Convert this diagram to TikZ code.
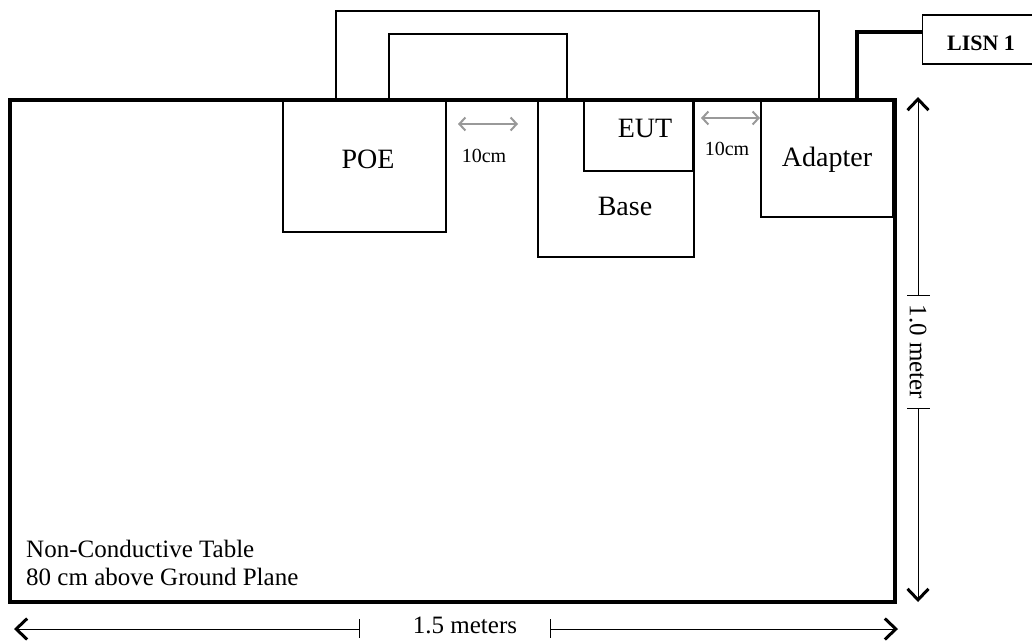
\documentclass[tikz,border=0pt]{standalone}
\usepackage{fontspec}
\setmainfont{Liberation Serif}
\usetikzlibrary{arrows.meta}
\begin{document}
\begin{tikzpicture}[x=1pt,y=-1pt,
  box/.style={draw=black,line width=1.4pt},
  cable/.style={draw=black,line width=1.4pt},
  gap/.style={draw=black!40,line width=1.6pt,{Straight Barb[length=6pt,width=13pt,line width=2pt]}-{Straight Barb[length=6pt,width=13pt,line width=2pt]}},
  dim/.style={draw=black,line width=1pt},
  tip/.style={-{Straight Barb[length=11pt,width=21pt,line width=3pt]}},
  lbl/.style={font=\fontsize{28}{30}\selectfont,inner sep=0pt,anchor=base},
  small/.style={font=\fontsize{20}{22}\selectfont,inner sep=0pt,anchor=base},
  dimtxt/.style={font=\fontsize{25}{28}\selectfont,inner sep=0pt}]
\useasboundingbox (0,0) rectangle (1032,640);
% table
\draw[line width=3.8pt] (10,100) rectangle (895,602);
% boxes
\draw[box] (283,101) rectangle (446,232);
\draw[box] (538,101) rectangle (694,257);
\draw[box] (584,101) rectangle (693,171);
\draw[box] (761,101) rectangle (893,217);
\node[lbl] (poe) at (368,168) {POE};
\node[lbl] (base) at (625,215) {Base};
\node[lbl] (eut) at (645,137) {EUT};
\node[lbl] (adapter) at (827,166) {Adapter};
% cables
\draw[cable] (336,100) -- (336,11) -- (819,11) -- (819,100);
\draw[cable] (389,100) -- (389,34) -- (567,34) -- (567,100);
% LISN
\node[draw=black,line width=1.4pt,minimum width=125pt,minimum height=49pt,anchor=west,inner sep=0pt] (lisn) at (922,39.5) {};
\node[font=\bfseries\fontsize{22}{24}\selectfont,inner sep=0pt,anchor=base] (lisntxt) at (981,50) {LISN 1};
\draw[line width=3.2pt] (857,100) -- (857,32) -- (lisn.west |- 0,32);
% spacing arrows
\coordinate (g1a) at (458,124); \coordinate (g1b) at (518,124);
\draw[gap] (g1a) -- (g1b);
\node[small] (d1) at (484,162) {10cm};
\coordinate (g2a) at (701,118); \coordinate (g2b) at (760,118);
\draw[gap] (g2a) -- (g2b);
\node[small] (d2) at (727,155) {10cm};
% vertical dimension
\coordinate (vt) at (918,97); \coordinate (vb) at (918,602);
\coordinate (v1) at (918,295); \coordinate (v2) at (918,408);
\draw[dim,tip] (v1) -- (vt);
\draw[dim,tip] (v2) -- (vb);
\draw[dim] (907,295) -- (930,295);
\draw[dim] (907,408) -- (930,408);
\node[dimtxt,rotate=-90] (vtxt) at (918,352) {1.0 meter};
% horizontal dimension
\coordinate (hl) at (14,629); \coordinate (hr) at (898,629);
\coordinate (h1) at (359,629); \coordinate (h2) at (550,629);
\draw[dim,tip] (h1) -- (hl);
\draw[dim,tip] (h2) -- (hr);
\draw[dim] (359,619) -- (359,638);
\draw[dim] (550,619) -- (550,638);
\node[dimtxt,anchor=base] (htxt) at (465,633) {1.5 meters};
% table label
\node[font=\fontsize{25}{28}\selectfont,anchor=base west,inner sep=0pt] (t1) at (26,557) {Non-Conductive Table};
\node[font=\fontsize{25}{28}\selectfont,anchor=base west,inner sep=0pt] (t2) at (26,585) {80 cm above Ground Plane};
\end{tikzpicture}
\end{document}
